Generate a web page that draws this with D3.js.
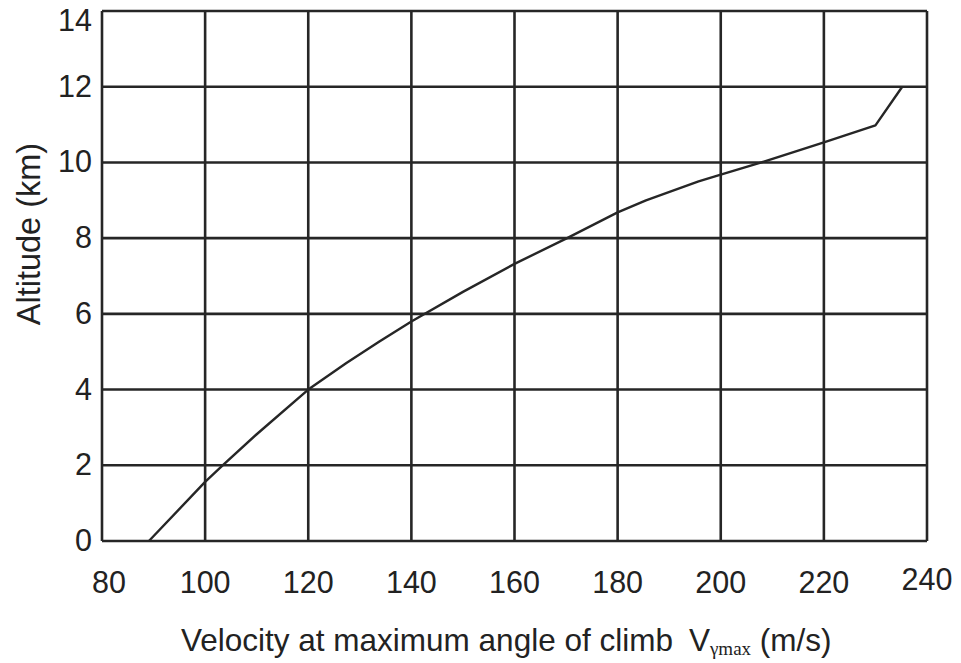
<!DOCTYPE html>
<html><head><meta charset="utf-8">
<script src="https://cdn.jsdelivr.net/npm/d3@7"></script>
<style>body{margin:0;background:#fff}svg{display:block}</style>
</head><body>
<svg id="c" width="961" height="663"></svg>
<script>
const velocity = [89.1, 100, 103.4, 110, 120, 127.4, 133.8, 140, 150, 160, 170.2, 180, 185.5, 195.7, 200, 207.9, 220, 230, 235.2];
const altitude = [0, 1.56, 2, 2.82, 4.0, 4.7, 5.27, 5.8, 6.58, 7.32, 8, 8.68, 9.0, 9.5, 9.68, 10, 10.53, 10.98, 12.0];
const xTicks = [80, 100, 120, 140, 160, 180, 200, 220, 240];
const yTicks = [0, 2, 4, 6, 8, 10, 12, 14];

const svg = d3.select('#c');
const L = 102, R = 927, T = 11, B = 541;
const x = d3.scaleLinear().domain([80, 240]).range([L, R]);
const y = d3.scaleLinear().domain([0, 14]).range([B, T]);
const ink = '#262626';
const font = '"Liberation Sans", Arial, sans-serif';

const g = svg.append('g');
g.selectAll('line.v').data(xTicks).join('line')
  .attr('x1', d => x(d)).attr('x2', d => x(d)).attr('y1', T).attr('y2', B)
  .attr('stroke', ink).attr('stroke-width', 2.6);
g.selectAll('line.h').data(yTicks).join('line')
  .attr('y1', d => y(d)).attr('y2', d => y(d)).attr('x1', L).attr('x2', R)
  .attr('stroke', ink).attr('stroke-width', 2.6);

// curve
const pts = velocity.map((v, i) => [v, altitude[i]]);
svg.append('path').datum(pts)
  .attr('d', d3.line().x(d => x(d[0])).y(d => y(d[1])))
  .attr('fill', 'none').attr('stroke', ink).attr('stroke-width', 2.4)
  .attr('stroke-linejoin', 'round');

// tick labels
svg.selectAll('text.xt').data(xTicks).join('text')
  .attr('x', d => x(d) + (d === 80 ? 7 : 0)).attr('y', d => d === 240 ? 590 : 593)
  .attr('text-anchor', 'middle').attr('font-family', font).attr('font-size', 30.5)
  .attr('fill', '#222').text(d => d);
svg.selectAll('text.yt').data(yTicks).join('text')
  .attr('x', 92).attr('y', d => Math.max(y(d) + 10, 31))
  .attr('text-anchor', 'end').attr('font-family', font).attr('font-size', 30.5)
  .attr('fill', '#222').text(d => d);

// axis titles
svg.append('text').attr('transform', 'translate(40,234) rotate(-90)')
  .attr('text-anchor', 'middle').attr('font-family', font).attr('font-size', 32.5)
  .attr('fill', '#222').text('Altitude (km)');

const xt = svg.append('text').attr('x', 181).attr('y', 651)
  .attr('font-family', font).attr('font-size', 31.5).attr('fill', '#222');
xt.append('tspan').text('Velocity at maximum angle of climb');
xt.append('tspan').attr('dx', 16).text('V');
xt.append('tspan').attr('font-family', '"Liberation Serif", "Times New Roman", serif')
  .attr('font-size', 19).attr('dy', 4).text('γmax');
xt.append('tspan').attr('dy', -4).text(' (m/s)');
</script>
</body></html>
